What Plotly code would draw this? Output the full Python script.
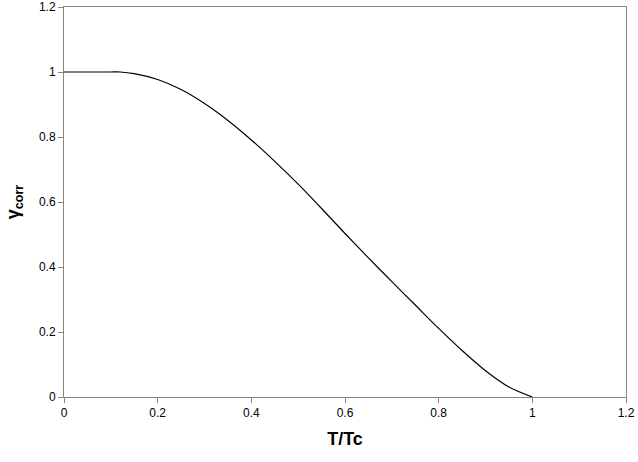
import plotly.graph_objects as go

t_ratio = [0.0, 0.05, 0.10, 0.12, 0.15, 0.20, 0.25, 0.30, 0.35, 0.40, 0.45, 0.50,
           0.55, 0.60, 0.65, 0.70, 0.75, 0.80, 0.85, 0.90, 0.95, 1.00]
gamma_corr = [1.0, 1.0, 1.0, 1.0, 0.995, 0.977, 0.946, 0.903, 0.851, 0.791, 0.725, 0.655,
              0.580, 0.503, 0.428, 0.355, 0.283, 0.211, 0.143, 0.081, 0.031, 0.0]
tick_vals = [0, 0.2, 0.4, 0.6, 0.8, 1.0, 1.2]
tick_text = ["0", "0.2", "0.4", "0.6", "0.8", "1", "1.2"]

fig = go.Figure()
fig.add_trace(go.Scatter(x=t_ratio, y=gamma_corr, mode="lines",
                         line=dict(color="black", width=1.2, shape="spline", smoothing=0.8),
                         showlegend=False))

axis_common = dict(
    showgrid=False, zeroline=False, showline=True, linecolor="#868686", linewidth=1,
    mirror=True, ticks="outside", ticklen=5, tickcolor="#868686",
    tickvals=tick_vals, ticktext=tick_text, range=[0, 1.2], automargin=False,
    tickfont=dict(family="Liberation Sans, Arial, sans-serif", size=12, color="#000000"),
)

fig.update_layout(
    width=638, height=462,
    margin=dict(l=64, r=12, t=7, b=65),
    paper_bgcolor="white", plot_bgcolor="white",
    xaxis=dict(**axis_common,
               title=dict(text="<b>T/Tc</b>", standoff=12,
                          font=dict(family="Liberation Sans, Arial, sans-serif", size=18, color="#000"))),
    yaxis=dict(**axis_common,
               title=dict(text="<b>γ<sub>corr</sub></b>", standoff=14,
                          font=dict(family="Liberation Sans, Arial, sans-serif", size=18, color="#000"))),
)

fig.write_html("out.html", config={"displayModeBar": False},
               post_script="document.body.style.margin='0px';")
